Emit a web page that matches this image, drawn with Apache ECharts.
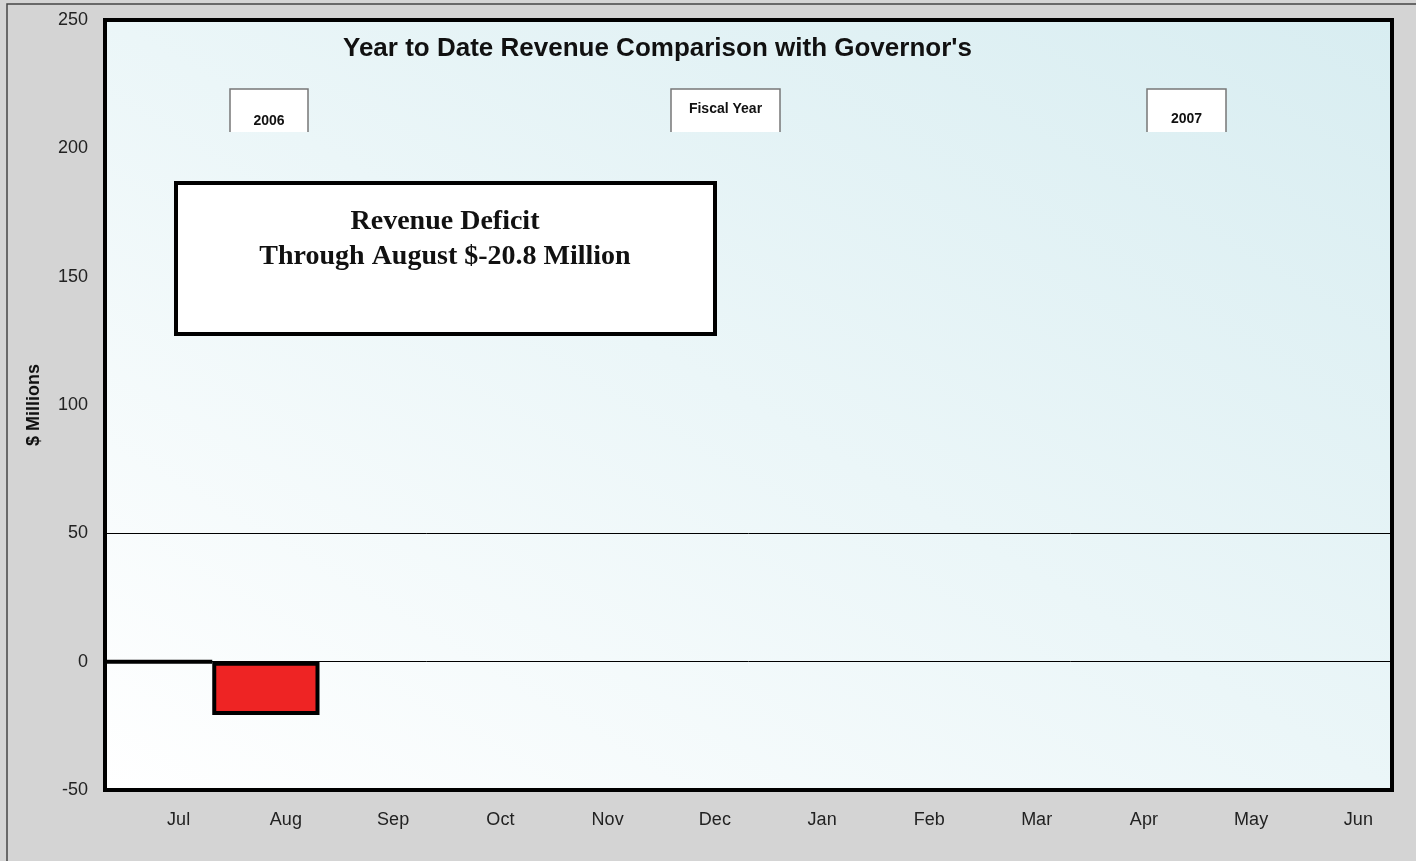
<!DOCTYPE html>
<html>
<head>
<meta charset="utf-8">
<title>Year to Date Revenue Comparison with Governor's</title>
<script src="https://cdn.jsdelivr.net/npm/echarts@6/dist/echarts.min.js"></script>
<style>
  html, body { margin: 0; padding: 0; background: #d4d4d4; }
  #chart { width: 1416px; height: 861px; }
</style>
</head>
<body>
<div id="chart"></div>
<script>
// 月份 / 差额 (百万美元)
const months = ['Jul', 'Aug', 'Sep', 'Oct', 'Nov', 'Dec', 'Jan', 'Feb', 'Mar', 'Apr', 'May', 'Jun'];
const deficit = [0, -20.8];
const refLines = [50, 0];
const yTicks = { min: -50, max: 250, step: 50 };

const myChart = echarts.init(document.getElementById('chart'));

// 小标签框 (上边和两侧有边框)
const tagBox = (x, y, w, h, text, ty) => ({
  type: 'group',
  children: [
    { type: 'rect', shape: { x: x, y: y, width: w, height: h }, style: { fill: '#fff' } },
    { type: 'polyline', shape: { points: [[x, y + h], [x, y], [x + w, y], [x + w, y + h]] },
      style: { stroke: '#777', lineWidth: 1.5, fill: null } },
    { type: 'text', x: x + w / 2, y: ty,
      style: { text: text, fill: '#111', font: 'bold 14px "Liberation Sans", Arial', align: 'center', verticalAlign: 'middle' } }
  ]
});

const serifFont = 'bold 28px "Liberation Serif", "DejaVu Serif", serif';

const option = {
  backgroundColor: '#d4d4d4',
  animation: false,
  title: {
    text: "Year to Date Revenue Comparison with Governor's",
    left: 338,
    top: 31,
    textStyle: { fontFamily: '"Liberation Sans", Arial', fontSize: 26, fontWeight: 'bold', color: '#111' }
  },
  grid: {
    left: 105,
    top: 20,
    right: 24,
    bottom: 71,
    show: true,
    borderColor: '#000',
    borderWidth: 4,
    // 从左下角(白)到右上角(浅蓝)的渐变
    backgroundColor: new echarts.graphic.LinearGradient(105, 790, 784, -343, [
      { offset: 0, color: '#ffffff' },
      { offset: 0.5, color: '#ebf6f8' },
      { offset: 1, color: '#d8edf1' }
    ], true)
  },
  xAxis: {
    type: 'category',
    data: months,
    boundaryGap: true,
    axisLine: { show: false },
    axisTick: { show: false },
    axisLabel: {
      color: '#222',
      fontFamily: '"Liberation Sans", Arial',
      fontSize: 18,
      margin: 21,
      padding: [0, 0, 0, 40]
    },
    splitLine: { show: false }
  },
  yAxis: {
    type: 'value',
    min: yTicks.min,
    max: yTicks.max,
    interval: yTicks.step,
    name: '$ Millions',
    nameLocation: 'middle',
    nameRotate: 90,
    nameGap: 62,
    nameTextStyle: { fontFamily: '"Liberation Sans", Arial', fontSize: 18, fontWeight: 'bold', color: '#111' },
    axisLine: { show: false },
    axisTick: { show: false },
    axisLabel: {
      color: '#222',
      fontFamily: '"Liberation Sans", Arial',
      fontSize: 18,
      margin: 17
    },
    splitLine: { show: false }
  },
  series: [{
    type: 'bar',
    data: deficit,
    barWidth: '100%',
    itemStyle: {
      color: '#ee2424',
      borderColor: '#000',
      borderWidth: 4
    },
    markLine: {
      silent: true,
      symbol: 'none',
      label: { show: false },
      lineStyle: { color: '#000', width: 1, type: 'solid' },
      data: refLines.map(v => ({ yAxis: v }))
    },
    z: 3
  }],
  graphic: [
    tagBox(230, 89, 78, 43, '2006', 121),
    tagBox(671, 89, 109, 43, 'Fiscal Year', 109),
    tagBox(1147, 89, 79, 43, '2007', 119),
    {
      type: 'rect',
      shape: { x: 176, y: 183, width: 539, height: 151 },
      style: { fill: '#fff', stroke: '#000', lineWidth: 4 }
    },
    {
      type: 'text', x: 445, y: 222,
      style: { text: 'Revenue Deficit', fill: '#111', font: serifFont, align: 'center', verticalAlign: 'middle' }
    },
    {
      type: 'text', x: 445, y: 257,
      style: { text: 'Through August $-20.8 Million', fill: '#111', font: serifFont, align: 'center', verticalAlign: 'middle' }
    },
    {
      type: 'polyline',
      shape: { points: [[7, 861], [7, 4], [1416, 4]] },
      style: { stroke: '#444', lineWidth: 1.5, fill: null }
    }
  ]
};

myChart.setOption(option);
</script>
</body>
</html>
